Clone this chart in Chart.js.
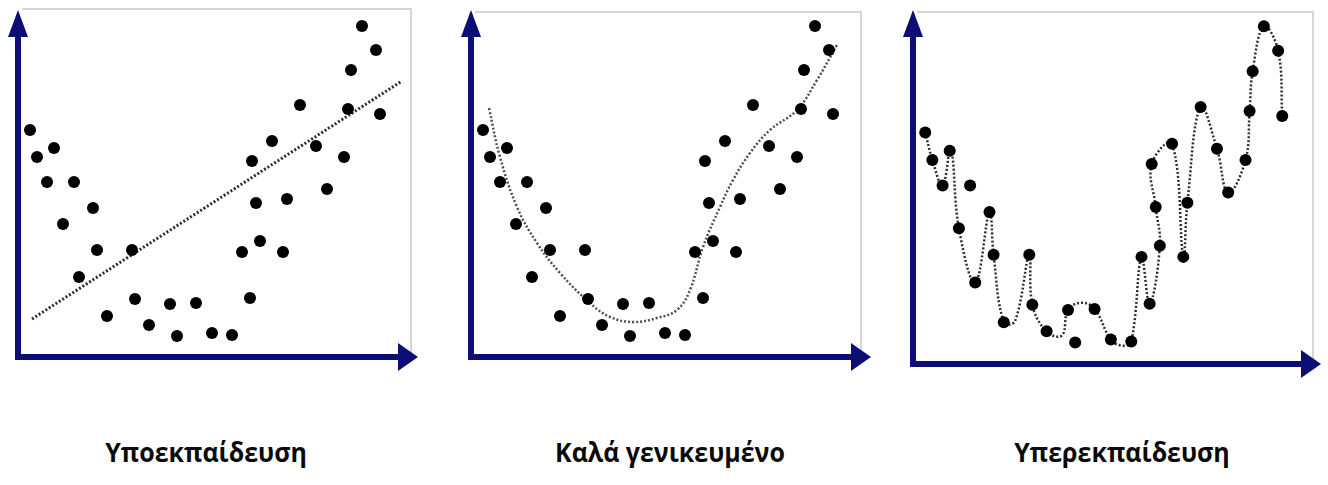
<!DOCTYPE html>
<html>
<head>
<meta charset="utf-8">
<script src="https://cdn.jsdelivr.net/npm/chart.js@4.4.1/dist/chart.umd.min.js"></script>
<style>
    body { margin: 0; background: #fff; width: 1328px; height: 485px; overflow: hidden; position: relative; }
    canvas { position: absolute; top: 0; }
    .cap {
        position: absolute; top: 437px;
        font-family: 'Open Sans', sans-serif; font-weight: 700; font-size: 26px; line-height: 30px;
        color: #0a0a0a; white-space: nowrap; transform: translateX(-50%) scaleX(0.96);
    }
</style>
</head>
<body>
<canvas id="under" width="440" height="380" style="left:0px"></canvas>
<canvas id="good" width="440" height="380" style="left:450px"></canvas>
<canvas id="over" width="433" height="390" style="left:895px"></canvas>

<script>
// --- data (same noisy sample in all three panels) ---
const dotX = [12, 19, 36, 29, 56, 45, 75, 79, 61, 89, 114, 117, 131, 152, 159, 178, 194, 214,
              224, 232, 234, 238, 242, 254, 265, 269, 282, 298, 309, 326, 330, 333, 344, 358, 362];
const dotY = [227, 200, 209, 175, 175, 133, 149, 107, 80, 41, 107, 58, 32, 53, 21, 54, 24, 22,
              105, 59, 196, 154, 116, 216, 105, 158, 252, 211, 168, 200, 248, 287, 331, 307, 243];

// straight line fit (underfitting)
const underX = [14, 384];
const underY = [38, 276];

// smooth curve (good fit)
const goodX = [18, 29, 46, 66, 89, 119, 139, 162, 186, 206, 219, 232, 249, 262, 279, 299, 326, 346, 366];
const goodY = [249, 200, 150, 114, 84, 54, 40, 35, 39, 47, 67, 110, 150, 177, 204, 227, 247, 277, 312];

// wiggly curve through the points (overfitting)
const overX = [12, 19, 29, 37, 45, 61, 75, 79, 89, 100, 114, 117, 131, 146, 152, 165, 178, 194, 205, 214,
               224, 232, 242, 238, 234, 254, 265, 269, 282, 298, 309, 326, 330, 333, 344, 358, 362];
const overY = [227, 200, 175, 211, 133, 80, 149, 107, 41, 42, 107, 58, 32, 28, 53, 60, 54, 24, 18, 22,
               105, 59, 116, 154, 196, 216, 105, 158, 252, 211, 168, 200, 248, 287, 331, 307, 243];

const captions = ['Υποεκπαίδευση', 'Καλά γενικευμένο', 'Υπερεκπαίδευση'];

const xMax = 400;
const yMax = 347;

const toPoints = (xs, ys) => xs.map((x, i) => ({ x: x, y: ys[i] }));

// --- axes arrows + faint frame ---
const navy = '#0d0d76';
const arrowsPlugin = {
    id: 'arrows',
    beforeDatasetsDraw(chart, args, opts) {
        const { ctx, chartArea: a } = chart;
        ctx.save();
        // light frame on top and right
        ctx.strokeStyle = '#d6d6d6';
        ctx.lineWidth = 2;
        ctx.beginPath();
        ctx.moveTo(a.left + 4, a.top + opts.frameTop);
        ctx.lineTo(a.right - opts.frameRight, a.top + opts.frameTop);
        ctx.lineTo(a.right - opts.frameRight, a.bottom - 4);
        ctx.stroke();

        ctx.strokeStyle = navy;
        ctx.fillStyle = navy;
        ctx.lineWidth = 6;
        ctx.beginPath();
        ctx.moveTo(a.left, a.bottom + 3);
        ctx.lineTo(a.left, a.top + 20);
        ctx.moveTo(a.left - 3, a.bottom);
        ctx.lineTo(a.right - 16, a.bottom);
        ctx.stroke();
        ctx.beginPath();
        ctx.moveTo(a.left, a.top);
        ctx.lineTo(a.left - 10, a.top + 27);
        ctx.lineTo(a.left + 10, a.top + 27);
        ctx.closePath();
        ctx.fill();
        ctx.beginPath();
        ctx.moveTo(a.right, a.bottom);
        ctx.lineTo(a.right - 20, a.bottom - 14);
        ctx.lineTo(a.right - 20, a.bottom + 14);
        ctx.closePath();
        ctx.fill();
        ctx.restore();
    }
};

function makeChart(id, pad, fitPoints, tension, lineStyle, frame) {
    new Chart(document.getElementById(id), {
        type: 'scatter',
        data: {
            datasets: [{
                data: toPoints(dotX, dotY),
                pointRadius: 6,
                pointBackgroundColor: '#000',
                pointBorderWidth: 0,
                showLine: false
            }, {
                data: fitPoints,
                showLine: true,
                pointRadius: 0,
                borderColor: lineStyle.color,
                borderWidth: lineStyle.width,
                borderDash: [2, 2],
                tension: tension
            }]
        },
        options: {
            responsive: false,
            animation: false,
            layout: { padding: pad },
            scales: {
                x: { type: 'linear', min: 0, max: xMax, display: false },
                y: { type: 'linear', min: 0, max: yMax, display: false }
            },
            plugins: {
                legend: { display: false },
                tooltip: { enabled: false },
                arrows: frame
            }
        },
        plugins: [arrowsPlugin]
    });
}

makeChart('under', { left: 18, top: 10, right: 22, bottom: 23 }, toPoints(underX, underY), 0,
    { color: '#2e2e2e', width: 3 }, { frameTop: -1, frameRight: 7 });
makeChart('good', { left: 21, top: 10, right: 19, bottom: 23 }, toPoints(goodX, goodY), 0.4,
    { color: '#505050', width: 2.5 }, { frameTop: 2, frameRight: 10 });
makeChart('over', { left: 18, top: 10, right: 7, bottom: 26 }, toPoints(overX, overY), 0.4,
    { color: '#2e2e2e', width: 2.5 }, { frameTop: 2, frameRight: 8 });

// --- captions ---
const capCenters = [206, 670, 1122];
captions.forEach((text, i) => {
    const d = document.createElement('div');
    d.className = 'cap';
    d.style.left = capCenters[i] + 'px';
    d.textContent = text;
    document.body.appendChild(d);
});
</script>
</body>
</html>
